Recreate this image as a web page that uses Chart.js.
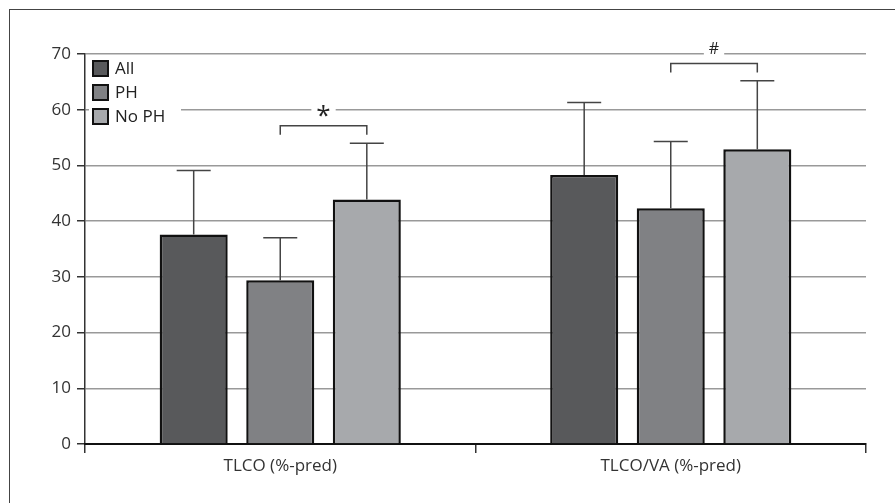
<!DOCTYPE html>
<html>
<head>
<meta charset="utf-8">
<script src="https://cdn.jsdelivr.net/npm/chart.js@4"></script>
<style>
  html, body { margin: 0; padding: 0; background: #fff; }
  #wrap { position: relative; width: 895px; height: 503px; }
  #frame { position: absolute; left: 9px; top: 9px; right: 0; bottom: 0; border-left: 1.5px solid #444; border-top: 1.5px solid #444; }
  canvas { position: absolute; left: 0; top: 0; }
</style>
</head>
<body>
<div id="wrap">
  <div id="frame"></div>
  <canvas id="chart" width="895" height="503"></canvas>
</div>
<script>
var categories = ['TLCO (%-pred)', 'TLCO/VA (%-pred)'];
var seriesNames = ['All', 'PH', 'No PH'];
var allMeans = [37.6, 48.3];
var allSd = [11.5, 13.0];
var phMeans = [29.4, 42.3];
var phSd = [7.6, 12.0];
var noPhMeans = [43.9, 52.9];
var noPhSd = [10.1, 12.3];
var yTicks = [0, 10, 20, 30, 40, 50, 60, 70];

// significance brackets: category, from series, to series, level, label
var bracketCats = [0, 1];
var bracketFrom = [1, 1];
var bracketTo = [2, 2];
var bracketLevels = [57.1, 68.3];
var bracketLabels = ['*', '#'];

var fontFamily = '"Open Sans", "Noto Sans", sans-serif';
var barColors = ['#58595b', '#808184', '#a7a9ac'];

var overlay = {
  id: 'overlay',
  afterDatasetsDraw: function (chart) {
    var ctx = chart.ctx;
    var y = chart.scales.y;

    // upper error bars
    chart.data.datasets.forEach(function (ds, di) {
      var meta = chart.getDatasetMeta(di);
      meta.data.forEach(function (bar, i) {
        var top = y.getPixelForValue(ds.data[i] + ds.sd[i]);
        ctx.save();
        ctx.strokeStyle = '#444';
        ctx.lineWidth = 1.5;
        ctx.beginPath();
        ctx.moveTo(bar.x, bar.y);
        ctx.lineTo(bar.x, top);
        ctx.moveTo(bar.x - 17, top);
        ctx.lineTo(bar.x + 17, top);
        ctx.stroke();
        ctx.restore();
      });
    });

    // brackets
    bracketCats.forEach(function (c, k) {
      var x1 = chart.getDatasetMeta(bracketFrom[k]).data[c].x;
      var x2 = chart.getDatasetMeta(bracketTo[k]).data[c].x;
      var yy = y.getPixelForValue(bracketLevels[k]);
      ctx.save();
      ctx.strokeStyle = '#444';
      ctx.lineWidth = 1.5;
      ctx.beginPath();
      ctx.moveTo(x1, yy + 9);
      ctx.lineTo(x1, yy);
      ctx.lineTo(x2, yy);
      ctx.lineTo(x2, yy + 9);
      ctx.stroke();
      var isStar = bracketLabels[k] === '*';
      ctx.font = (isStar ? '26px ' : '16px ') + fontFamily;
      var w = ctx.measureText(bracketLabels[k]).width + 10;
      var cx = (x1 + x2) / 2;
      var cy = yy - 14;
      ctx.fillStyle = '#fff';
      ctx.fillRect(cx - w / 2, cy - 8, w, 14);
      ctx.fillStyle = '#222';
      ctx.textAlign = 'center';
      ctx.textBaseline = 'middle';
      ctx.fillText(bracketLabels[k], cx, isStar ? cy + 5 : cy);
      ctx.restore();
    });

    // legend inside plot area
    var lx = chart.chartArea.left + 8;
    var ly = chart.chartArea.top + 7;
    ctx.save();
    ctx.fillStyle = '#fff';
    ctx.fillRect(lx - 4, ly - 2, 92, 74);
    ctx.font = '17px ' + fontFamily;
    ctx.textBaseline = 'middle';
    chart.data.datasets.forEach(function (ds, di) {
      var ry = ly + di * 24;
      ctx.fillStyle = ds.backgroundColor;
      ctx.fillRect(lx, ry, 15, 15);
      ctx.strokeStyle = '#111';
      ctx.lineWidth = 2;
      ctx.strokeRect(lx, ry, 15, 15);
      ctx.fillStyle = '#222';
      ctx.fillText(ds.label, lx + 22, ry + 8);
    });
    ctx.restore();
  }
};

new Chart(document.getElementById('chart'), {
  type: 'bar',
  data: {
    labels: categories,
    datasets: [
      { label: seriesNames[0], data: allMeans, sd: allSd, backgroundColor: barColors[0] },
      { label: seriesNames[1], data: phMeans, sd: phSd, backgroundColor: barColors[1] },
      { label: seriesNames[2], data: noPhMeans, sd: noPhSd, backgroundColor: barColors[2] }
    ].map(function (d) {
      d.borderColor = '#111';
      d.borderWidth = 2.5;
      d.categoryPercentage = 0.665;
      d.barPercentage = 0.786;
      return d;
    })
  },
  options: {
    responsive: false,
    animation: false,
    devicePixelRatio: 1,
    layout: { padding: { left: 0, right: 29, top: 54, bottom: 0 } },
    plugins: { legend: { display: false }, tooltip: { enabled: false } },
    scales: {
      y: {
        min: 0,
        max: 70,
        afterBuildTicks: function (scale) {
          scale.ticks = yTicks.map(function (v) { return { value: v }; });
        },
        afterFit: function (scale) { scale.width = 85; },
        border: { color: '#333', width: 1.5 },
        grid: {
          color: function (c) { return c.tick && c.tick.value === 0 ? 'rgba(0,0,0,0)' : '#999'; },
          lineWidth: 1.5,
          tickLength: 8,
          tickColor: '#333'
        },
        ticks: { color: '#333', padding: 6, font: { family: fontFamily, size: 17 } }
      },
      x: {
        afterFit: function (scale) { scale.height = 59; },
        border: { color: '#111', width: 2 },
        grid: {
          offset: true,
          drawOnChartArea: false,
          tickLength: 9,
          tickColor: '#333',
          lineWidth: 1.5
        },
        ticks: { color: '#333', padding: 3, font: { family: fontFamily, size: 17 } }
      }
    }
  },
  plugins: [overlay]
});
</script>
</body>
</html>
